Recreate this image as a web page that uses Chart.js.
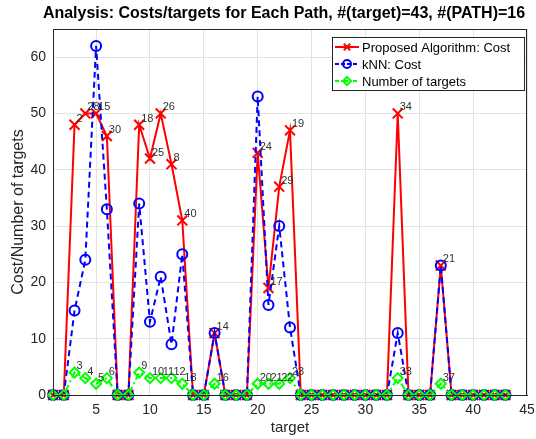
<!DOCTYPE html>
<html>
<head>
<meta charset="utf-8">
<script src="https://cdn.jsdelivr.net/npm/chart.js@4.4.1/dist/chart.umd.min.js"></script>
<style>
  html, body { margin: 0; padding: 0; background: #fff; }
  #wrap { width: 536px; height: 439px; }
</style>
</head>
<body>
<div id="wrap"><canvas id="pathChart" width="536" height="439"></canvas></div>
<script>
// target index 1..43
const targets = [];
for (let i = 1; i <= 43; i++) targets.push(i);

// values
const proposedCost = [0, 0, 48, 50, 50, 46, 0, 0, 48, 42, 50, 41, 31, 0, 0, 11, 0, 0, 0, 43,
  19, 37, 47, 0, 0, 0, 0, 0, 0, 0, 0, 0, 50, 0, 0, 0, 23, 0, 0, 0, 0, 0, 0];
const knnCost = [0, 0, 15, 24, 62, 33, 0, 0, 34, 13, 21, 9, 25, 0, 0, 11, 0, 0, 0, 53,
  16, 30, 12, 0, 0, 0, 0, 0, 0, 0, 0, 0, 11, 0, 0, 0, 23, 0, 0, 0, 0, 0, 0];
const numTargets = [0, 0, 4, 3, 2, 3, 0, 0, 4, 3, 3, 3, 2, 0, 0, 2, 0, 0, 0, 2,
  2, 2, 3, 0, 0, 0, 0, 0, 0, 0, 0, 0, 3, 0, 0, 0, 2, 0, 0, 0, 0, 0, 0];

// text shown next to the red points (path ids)
const pathIdx = [3, 4, 5, 6, 9, 10, 11, 12, 13, 16, 20, 21, 22, 23, 33, 37];
const pathLabels = ['2', '28', '15', '30', '18', '25', '26', '8', '40', '14', '24', '17', '29', '19', '34', '21'];

const xTicks = [5, 10, 15, 20, 25, 30, 35, 40, 45];
const yTicks = [0, 10, 20, 30, 40, 50, 60];

const FONT = '"Liberation Sans", Arial, sans-serif';

function toPoints(vals) {
    return vals.map((v, i) => ({ x: targets[i], y: v }));
}

const series = [
    { label: 'Proposed Algorithm: Cost', color: '#ff0000', style: 'crossRot', dash: [], r: 7 },
    { label: 'kNN: Cost', color: '#0000ff', style: 'circle', dash: [6, 4], r: 5 },
    { label: 'Number of targets', color: '#00ff00', style: 'rectRot', dash: [7, 3, 2, 3], r: 5 }
];

// small marker drawer for the legend
function drawMarker(ctx, style, x, y, r) {
    ctx.beginPath();
    if (style === 'crossRot') {
        ctx.moveTo(x - r * 0.8, y - r * 0.8); ctx.lineTo(x + r * 0.8, y + r * 0.8);
        ctx.moveTo(x + r * 0.8, y - r * 0.8); ctx.lineTo(x - r * 0.8, y + r * 0.8);
    } else if (style === 'circle') {
        ctx.arc(x, y, r, 0, Math.PI * 2);
    } else {
        ctx.moveTo(x, y - r); ctx.lineTo(x + r, y); ctx.lineTo(x, y + r); ctx.lineTo(x - r, y); ctx.closePath();
    }
    ctx.stroke();
}

const extras = {
    id: 'extras',
    afterDatasetsDraw(chart) {
        const ctx = chart.ctx;
        ctx.save();
        ctx.font = '11px ' + FONT;
        ctx.fillStyle = '#333333';
        ctx.textAlign = 'left';
        ctx.textBaseline = 'alphabetic';
        // red labels
        const red = chart.getDatasetMeta(0).data;
        pathIdx.forEach((t, k) => {
            const p = red[t - 1];
            ctx.fillText(pathLabels[k], p.x + 2, p.y - 3);
        });
        // green labels = target index
        const green = chart.getDatasetMeta(2).data;
        numTargets.forEach((v, i) => {
            if (v > 0) {
                const p = green[i];
                ctx.fillText(String(targets[i]), p.x + 2, p.y - 3);
            }
        });

        // title
        const area = chart.chartArea;
        ctx.font = 'bold 16px ' + FONT;
        ctx.fillStyle = '#000';
        ctx.textAlign = 'center';
        ctx.textBaseline = 'middle';
        ctx.fillText('Analysis: Costs/targets for Each Path, #(target)=43, #(PATH)=16', (area.left + area.right) / 2 - 6, 14);

        // frame on top/right
        ctx.strokeStyle = '#262626';
        ctx.lineWidth = 1;
        ctx.strokeRect(area.left + 0.5, area.top + 0.5, area.right - area.left - 1, area.bottom - area.top);

        // legend box
        const lx = 332, ly = 37, lw = 192, lh = 53;
        ctx.fillStyle = '#fff';
        ctx.fillRect(lx, ly, lw, lh);
        ctx.strokeRect(lx + 0.5, ly + 0.5, lw, lh);
        ctx.font = '13px ' + FONT;
        ctx.textAlign = 'left';
        series.forEach((s, k) => {
            const y = 47 + k * 17;
            ctx.strokeStyle = s.color;
            ctx.lineWidth = 2;
            ctx.setLineDash(s.dash.length ? [4, 2] : []);
            if (k === 2) ctx.setLineDash([4, 2, 1, 2]);
            ctx.beginPath(); ctx.moveTo(335, y); ctx.lineTo(359, y); ctx.stroke();
            ctx.setLineDash([]);
            drawMarker(ctx, s.style, 347, y, 4);
            ctx.fillStyle = '#000';
            ctx.fillText(s.label, 362, y + 1);
        });
        ctx.restore();
    }
};

const values = [proposedCost, knnCost, numTargets];

new Chart(document.getElementById('pathChart'), {
    type: 'line',
    data: {
        datasets: series.map((s, k) => ({
            label: s.label,
            data: toPoints(values[k]),
            borderColor: s.color,
            backgroundColor: 'rgba(0,0,0,0)',
            borderWidth: 2,
            borderDash: s.dash,
            pointStyle: s.style,
            pointRadius: s.r,
            pointBorderColor: s.color,
            pointBackgroundColor: 'rgba(0,0,0,0)',
            pointBorderWidth: 2,
            tension: 0,
            clip: false,
            order: 2 - k
        }))
    },
    options: {
        responsive: false,
        animation: false,
        layout: { padding: { top: 29, right: 0, left: 0, bottom: 0 } },
        plugins: {
            legend: { display: false },
            title: { display: false },
            tooltip: { enabled: false }
        },
        scales: {
            x: {
                type: 'linear',
                min: 1,
                max: 45,
                afterBuildTicks(axis) { axis.ticks = xTicks.map(v => ({ value: v })); },
                afterFit(axis) { axis.height = 44; axis.paddingRight = 0; axis.paddingLeft = 0; },
                grid: { color: '#e3e3e3', drawTicks: false },
                border: { color: '#262626', width: 1 },
                ticks: { color: '#262626', font: { family: FONT, size: 14 }, padding: 7, maxRotation: 0 },
                title: { display: true, text: 'target', color: '#262626', font: { family: FONT, size: 15 }, padding: { top: 0, bottom: 2 } }
            },
            y: {
                min: 0,
                max: 65,
                afterBuildTicks(axis) { axis.ticks = yTicks.map(v => ({ value: v })); },
                afterFit(axis) { axis.width = 53; },
                grid: { color: '#e3e3e3', drawTicks: false },
                border: { color: '#262626', width: 1 },
                ticks: { color: '#262626', font: { family: FONT, size: 14 }, padding: 7 },
                title: { display: true, text: 'Cost/Number of targets', color: '#262626', font: { family: FONT, size: 16 }, padding: { top: 9, bottom: 0 } }
            }
        }
    },
    plugins: [extras]
});
</script>
</body>
</html>
